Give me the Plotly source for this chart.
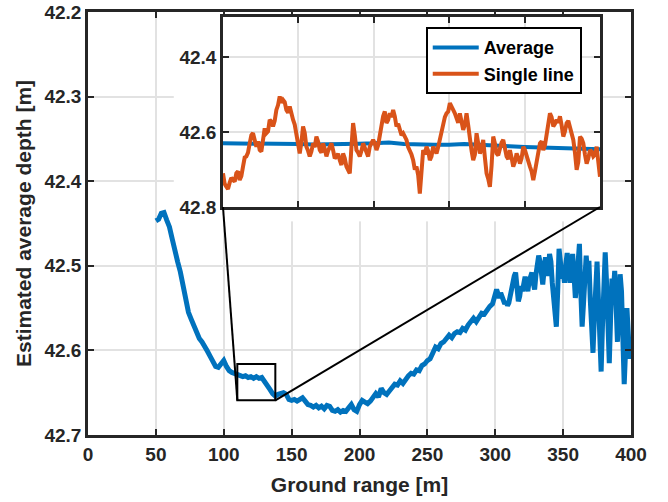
import numpy as np
import plotly.graph_objects as go

# ---------------- data ----------------
main_x = list(range(50, 300, 2)) + list(range(300, 401, 1))
main_y = [
    42.447, 42.445, 42.438, 42.437, 42.446, 42.454, 42.468, 42.484, 42.495, 42.507,
    42.525, 42.542, 42.555, 42.563, 42.572, 42.579, 42.586, 42.590, 42.597, 42.601,
    42.607, 42.614, 42.619, 42.620, 42.616, 42.612, 42.619, 42.624, 42.626, 42.627,
    42.628, 42.630, 42.631, 42.630, 42.632, 42.631, 42.633, 42.631, 42.633, 42.632,
    42.636, 42.641, 42.646, 42.651, 42.654, 42.652, 42.651, 42.650, 42.652, 42.658,
    42.659, 42.658, 42.660, 42.657, 42.656, 42.660, 42.664, 42.665, 42.667, 42.665,
    42.668, 42.666, 42.669, 42.665, 42.666, 42.671, 42.672, 42.670, 42.673, 42.671,
    42.672, 42.668, 42.664, 42.670, 42.672, 42.664, 42.659, 42.661, 42.663, 42.660,
    42.655, 42.651, 42.655, 42.645, 42.650, 42.652, 42.648, 42.645, 42.640, 42.641,
    42.636, 42.639, 42.633, 42.630, 42.627, 42.628, 42.623, 42.624, 42.618, 42.616,
    42.612, 42.610, 42.603, 42.596, 42.598, 42.592, 42.590, 42.586, 42.582, 42.585,
    42.580, 42.578, 42.579, 42.574, 42.576, 42.570, 42.566, 42.562, 42.566, 42.560,
    42.556, 42.557, 42.552, 42.548, 42.545,
    # 300 .. 400 step 1
    42.535, 42.528, 42.533, 42.538, 42.532, 42.536, 42.540, 42.545, 42.542, 42.547,
    42.544, 42.535, 42.528, 42.520, 42.512, 42.508, 42.530, 42.542, 42.536, 42.524,
    42.530, 42.519, 42.513, 42.522, 42.530, 42.518, 42.512, 42.508, 42.520, 42.528,
    42.510, 42.500, 42.488, 42.495, 42.515, 42.522, 42.505, 42.490, 42.498, 42.512,
    42.486, 42.495, 42.520, 42.538, 42.560, 42.572, 42.530, 42.480, 42.495, 42.515,
    42.505, 42.520, 42.498, 42.485, 42.500, 42.520, 42.505, 42.486, 42.510, 42.538,
    42.520, 42.490, 42.474, 42.530, 42.572, 42.545, 42.505, 42.488, 42.510, 42.494,
    42.540, 42.590, 42.603, 42.560, 42.515, 42.495, 42.540, 42.600, 42.625, 42.570,
    42.505, 42.484, 42.520, 42.575, 42.615, 42.560, 42.515, 42.530, 42.506, 42.545,
    42.590, 42.555, 42.510, 42.530, 42.585, 42.640, 42.600, 42.550, 42.580, 42.610,
    42.585,
]

avg_x = list(range(110, 136))
avg_y = [
    42.630, 42.630, 42.631, 42.632, 42.632, 42.632, 42.633, 42.633, 42.632, 42.631,
    42.630, 42.628, 42.632, 42.634, 42.634, 42.634, 42.632, 42.634, 42.637, 42.638,
    42.640, 42.641, 42.641, 42.643, 42.644, 42.646,
]

single_y = [
    42.710, 42.738, 42.746, 42.752, 42.735, 42.722, 42.728, 42.732, 42.710, 42.705,
    42.728, 42.718, 42.692, 42.668, 42.665, 42.655, 42.630, 42.608, 42.603, 42.628,
    42.639, 42.625, 42.648, 42.652, 42.612, 42.590, 42.603, 42.598, 42.567, 42.572,
    42.585, 42.570, 42.541, 42.528, 42.505, 42.522, 42.514, 42.520, 42.541, 42.548,
    42.532, 42.555, 42.567, 42.580, 42.603, 42.640, 42.657, 42.628, 42.585, 42.602,
    42.639, 42.650, 42.665, 42.652, 42.630, 42.640, 42.612, 42.625, 42.648, 42.655,
    42.630, 42.645, 42.665, 42.650, 42.639, 42.630, 42.648, 42.670, 42.665, 42.658,
    42.675, 42.688, 42.657, 42.670, 42.692, 42.700, 42.710, 42.640, 42.576, 42.608,
    42.648, 42.655, 42.665, 42.650, 42.630, 42.642, 42.657, 42.665, 42.639, 42.632,
    42.621, 42.630, 42.648, 42.635, 42.603, 42.590, 42.558, 42.545, 42.576, 42.568,
    42.550, 42.560, 42.541, 42.558, 42.585, 42.578, 42.594, 42.608, 42.603, 42.612,
    42.621, 42.640, 42.648, 42.660, 42.675, 42.700, 42.692, 42.715, 42.764, 42.702,
    42.648, 42.660, 42.639, 42.650, 42.675, 42.665, 42.639, 42.648, 42.657, 42.640,
    42.621, 42.598, 42.576, 42.560, 42.550, 42.545, 42.523, 42.530, 42.541, 42.550,
    42.567, 42.575, 42.550, 42.568, 42.594, 42.580, 42.550, 42.582, 42.621, 42.650,
    42.675, 42.660, 42.603, 42.628, 42.657, 42.645, 42.621, 42.668, 42.710, 42.725,
    42.746, 42.690, 42.612, 42.630, 42.657, 42.662, 42.639, 42.628, 42.621, 42.640,
    42.665, 42.672, 42.648, 42.668, 42.692, 42.680, 42.657, 42.668, 42.684, 42.670,
    42.639, 42.648, 42.665, 42.680, 42.692, 42.705, 42.728, 42.705, 42.675, 42.660,
    42.630, 42.625, 42.648, 42.635, 42.603, 42.575, 42.550, 42.560, 42.585, 42.578,
    42.567, 42.575, 42.558, 42.582, 42.612, 42.598, 42.576, 42.570, 42.585, 42.602,
    42.621, 42.655, 42.701, 42.680, 42.612, 42.618, 42.630, 42.660, 42.684, 42.670,
    42.648, 42.652, 42.665, 42.660, 42.639, 42.680, 42.719,
]
single_x = list(np.linspace(110.0, 135.0, len(single_y)))

x_ticks = [0, 50, 100, 150, 200, 250, 300, 350, 400]
y_ticks = [42.2, 42.3, 42.4, 42.5, 42.6, 42.7]
inset_x_ticks = [115, 120, 125, 130]
inset_y_ticks = [42.4, 42.6, 42.8]

zoom_box_x = [110, 138]
zoom_box_y = [42.616, 42.659]

# ---------------- styling ----------------
BLUE = "#0072BD"
ORANGE = "#D95319"
AX = "#262626"
GRID = "#e2e2e2"
FONT = "Liberation Sans, Arial, sans-serif"

XR = [0, 400]
YR = [42.7, 42.2]
IX_RANGE = [110, 135]
IY_RANGE = [42.8, 42.293]
INSET_DX = [0.2486, 0.9429]
INSET_DY = [0.539, 0.988]
COVER_DX = [0.158, 0.9429]
COVER_DY = [0.505, 0.988]

def to_paper(x, y):
    return ((x - XR[0]) / (XR[1] - XR[0]), (y - YR[0]) / (YR[1] - YR[0]))

fig = go.Figure()
fig.add_trace(go.Scatter(x=main_x, y=main_y, mode="lines",
                         line=dict(color=BLUE, width=5), showlegend=False,
                         xaxis="x", yaxis="y"))
# invisible cover subplot (white background behind inset + its labels)
fig.add_trace(go.Scatter(x=[], y=[], mode="lines", showlegend=False,
                         xaxis="x2", yaxis="y2", hoverinfo="skip"))
fig.add_trace(go.Scatter(x=avg_x, y=avg_y, mode="lines", name="Average",
                         line=dict(color=BLUE, width=4), xaxis="x3", yaxis="y3"))
fig.add_trace(go.Scatter(x=single_x, y=single_y, mode="lines", name="Single line",
                         line=dict(color=ORANGE, width=4), xaxis="x3", yaxis="y3"))

tickfont = dict(family=FONT, size=19, color=AX, weight="bold")
common = dict(showline=True, linecolor=AX, linewidth=2.5, mirror="ticks",
              ticks="inside", ticklen=6, tickwidth=2, tickcolor=AX,
              showgrid=True, gridcolor=GRID, gridwidth=2, zeroline=False,
              tickfont=tickfont, automargin=False)

fig.update_layout(
    width=668, height=502,
    margin=dict(l=88, r=37, t=12, b=67, autoexpand=False),
    paper_bgcolor="white", plot_bgcolor="white",
    xaxis=dict(range=XR, tickvals=x_ticks, domain=[0, 1], anchor="y",
               title=dict(text="Ground range [m]", standoff=14,
                          font=dict(family=FONT, size=21, color=AX, weight="bold")),
               **common),
    yaxis=dict(range=YR, tickvals=y_ticks, ticktext=[f"{v:.1f}" for v in y_ticks],
               domain=[0, 1], anchor="x",
               title=dict(text="Estimated average depth [m]", standoff=8,
                          font=dict(family=FONT, size=21, color=AX, weight="bold")),
               **common),
    xaxis2=dict(domain=COVER_DX, anchor="y2", range=[0, 1], visible=False, showgrid=False),
    yaxis2=dict(domain=COVER_DY, anchor="x2", range=[0, 1], visible=False, showgrid=False),
    xaxis3=dict(domain=INSET_DX, anchor="y3", range=IX_RANGE, tickvals=inset_x_ticks,
                showticklabels=False, **common),
    yaxis3=dict(domain=INSET_DY, anchor="x3", range=IY_RANGE, tickvals=inset_y_ticks,
                ticktext=[f"{v:.1f}" for v in inset_y_ticks], **common),
    legend=dict(x=0.622, y=0.964, xanchor="left", yanchor="top",
                bgcolor="white", bordercolor="black", borderwidth=2,
                font=dict(family=FONT, size=18, color="black", weight="bold"),
                itemwidth=46, tracegroupgap=0),
)

# zoom box on main axes
fig.add_shape(type="rect", xref="x", yref="y",
              x0=zoom_box_x[0], x1=zoom_box_x[1], y0=zoom_box_y[0], y1=zoom_box_y[1],
              line=dict(color="black", width=2), layer="above")

# connector lines from box to inset bottom corners
bl = to_paper(zoom_box_x[0], zoom_box_y[1])
br = to_paper(zoom_box_x[1], zoom_box_y[1])
fig.add_shape(type="line", xref="paper", yref="paper",
              x0=INSET_DX[0], y0=INSET_DY[0], x1=bl[0], y1=bl[1],
              line=dict(color="black", width=2), layer="above")
fig.add_shape(type="line", xref="paper", yref="paper",
              x0=br[0], y0=br[1], x1=INSET_DX[1], y1=INSET_DY[0],
              line=dict(color="black", width=2), layer="above")

fig.write_html("out.html")
